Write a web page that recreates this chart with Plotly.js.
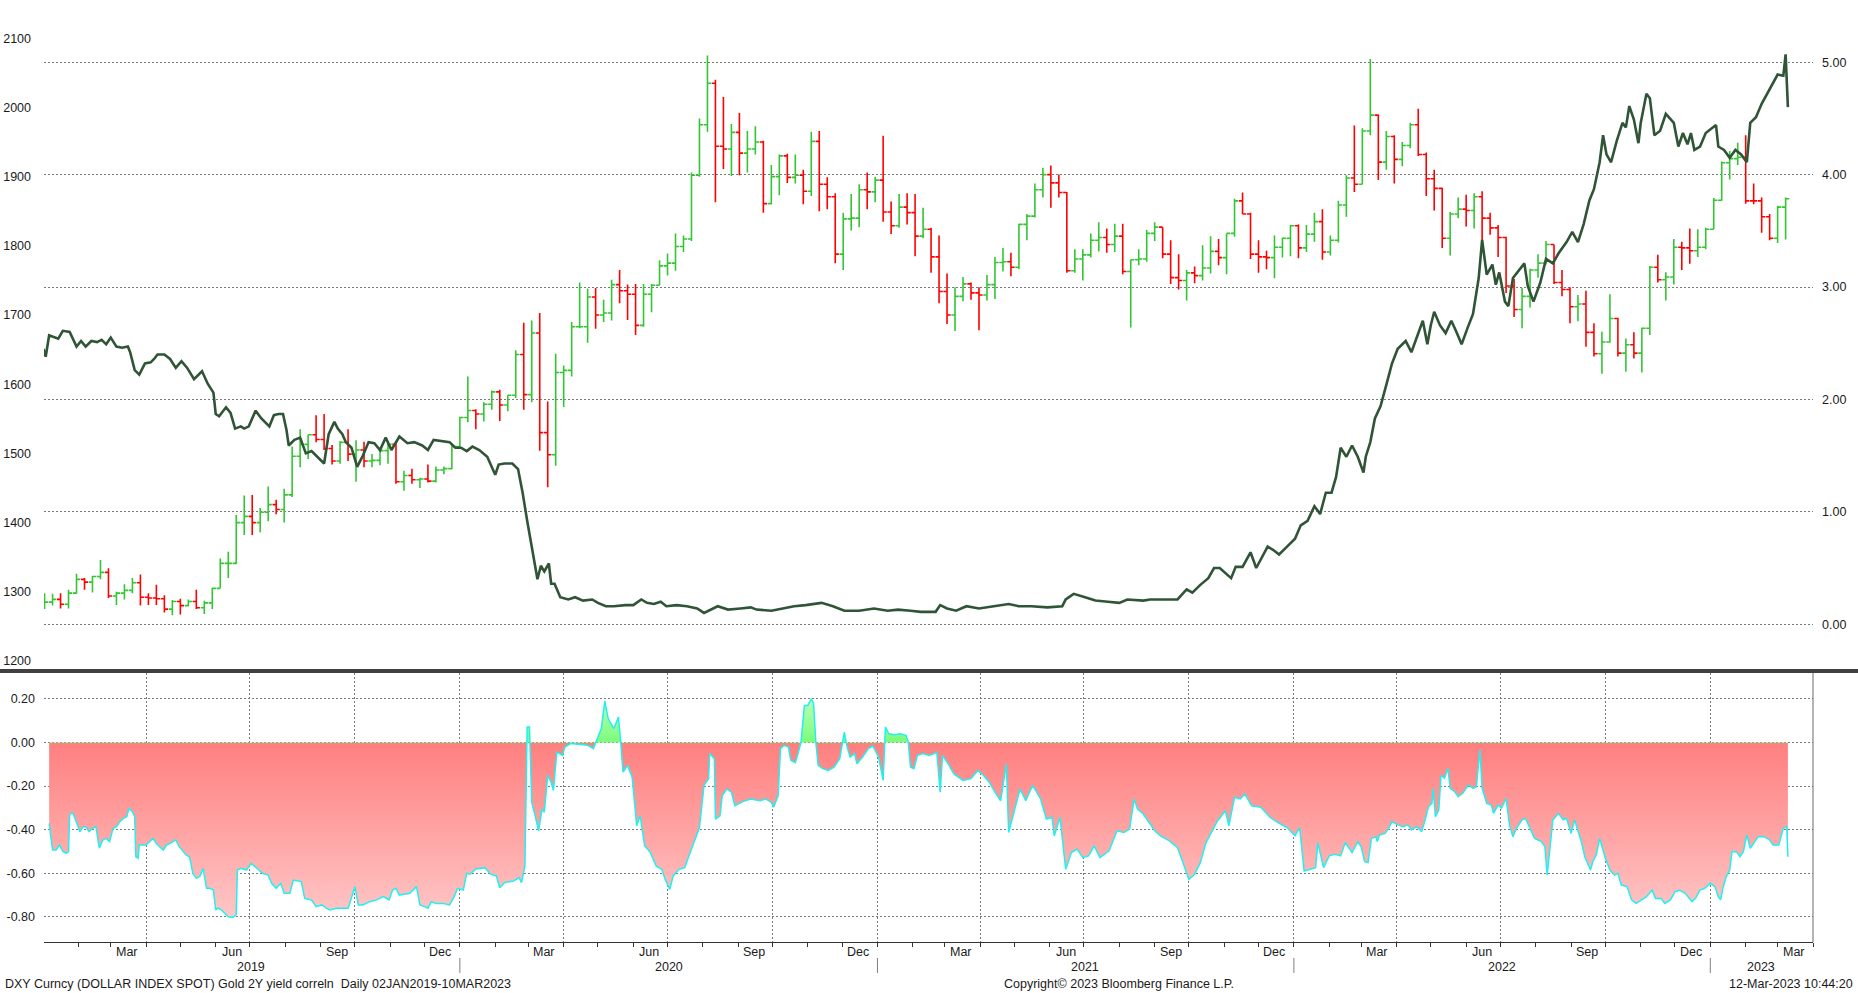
<!DOCTYPE html>
<html>
<head>
<meta charset="utf-8">
<script src="https://cdn.plot.ly/plotly-3.0.1.min.js"></script>
<style>html,body{margin:0;padding:0;background:#fff;}#chart{width:1858px;height:993px;}</style>
</head>
<body>
<div id="chart"></div>
<script>
// ---------------- DATA ----------------
// Gold spot, weekly OHLC bars (weeks starting Wed 2019-01-02)
const gold_first_week = '2019-01-02';
const gold_open = [1282,1285,1289,1282,1298,1318,1314,1322,1328,1294,1298,1302,1313,1292,1291,1290,1275,1286,1280,1286,1277,1284,1305,1341,1341,1400,1409,1400,1415,1426,1419,1440,1496,1513,1527,1520,1507,1489,1516,1499,1505,1489,1490,1504,1513,1459,1468,1462,1463,1460,1476,1478,
1510,1552,1562,1557,1571,1589,1570,1584,1643,1585,1674,1530,1498,1617,1620,1683,1683,1726,1700,1703,1744,1735,1730,1685,1730,1743,1771,1775,1799,1810,1902,1975,2035,1944,1940,1964,1934,1940,1950,1861,1900,1930,1899,1902,1879,1951,1889,1871,1788,1839,1840,1881,
1878,1895,1849,1829,1856,1848,1814,1824,1784,1734,1700,1727,1745,1732,1729,1744,1776,1777,1769,1831,1843,1881,1903,1891,1877,1764,1781,1787,1808,1812,1802,1814,1763,1780,1781,1818,1827,1788,1754,1750,1761,1757,1768,1792,1783,1818,1865,1846,1788,1784,1783,1798,1811,
1829,1797,1817,1835,1791,1808,1859,1898,1889,1966,1989,1921,1958,1925,1945,1975,1932,1897,1883,1811,1846,1853,1851,1871,1840,1826,1812,1742,1708,1727,1765,1775,1802,1747,1737,1712,1716,1675,1644,1661,1695,1645,1657,1645,1681,1769,1751,1755,1798,1797,1793,1798,
1824,1866,1920,1926,1928,1865,1865,1842,1811,1856];
const gold_high = [1298,1297,1298,1303,1326,1320,1323,1346,1334,1300,1311,1320,1325,1298,1310,1295,1288,1290,1289,1303,1287,1306,1348,1358,1411,1439,1440,1421,1452,1433,1449,1510,1535,1527,1555,1557,1512,1518,1535,1519,1517,1499,1506,1516,1515,1475,1478,1465,1484,1481,1481,1514,
1553,1611,1564,1574,1591,1592,1584,1649,1689,1692,1703,1575,1644,1627,1690,1747,1738,1739,1722,1751,1765,1744,1745,1745,1745,1779,1789,1818,1815,1906,1984,2075,2040,2015,1976,1992,1966,1973,1952,1917,1932,1933,1932,1910,1965,1966,1899,1876,1848,1875,1889,1906,
1900,1959,1864,1875,1876,1875,1855,1826,1815,1760,1740,1755,1747,1740,1758,1784,1797,1790,1832,1846,1890,1913,1916,1903,1878,1795,1795,1818,1834,1825,1832,1832,1780,1795,1823,1834,1827,1808,1788,1765,1770,1801,1814,1810,1818,1868,1877,1848,1808,1793,1815,1812,1830,
1831,1830,1848,1853,1815,1865,1902,1974,1970,2070,1990,1966,1960,1950,1978,1998,1935,1910,1884,1849,1870,1874,1876,1879,1848,1830,1813,1752,1739,1767,1788,1807,1802,1765,1740,1729,1735,1688,1676,1730,1696,1666,1675,1682,1771,1787,1762,1810,1806,1825,1824,1826,
1869,1922,1937,1949,1960,1890,1870,1846,1858,1870];
const gold_low = [1275,1280,1276,1276,1297,1303,1299,1318,1291,1281,1289,1298,1280,1281,1281,1270,1266,1267,1279,1275,1268,1275,1305,1320,1340,1382,1382,1386,1402,1412,1400,1437,1480,1492,1516,1505,1484,1485,1489,1459,1480,1480,1483,1485,1456,1446,1456,1450,1458,1458,1470,1477,
1508,1545,1535,1546,1563,1547,1561,1580,1563,1574,1504,1451,1482,1567,1611,1681,1660,1680,1690,1692,1717,1693,1671,1683,1704,1743,1757,1764,1791,1807,1900,1965,1863,1911,1901,1902,1906,1932,1848,1860,1873,1891,1890,1860,1872,1850,1853,1775,1765,1822,1827,1853,
1863,1835,1817,1826,1831,1785,1811,1761,1717,1687,1677,1720,1722,1678,1721,1723,1763,1756,1766,1808,1841,1870,1855,1870,1761,1761,1750,1783,1792,1790,1791,1759,1682,1772,1777,1807,1782,1745,1737,1721,1746,1750,1760,1772,1759,1813,1846,1781,1761,1766,1753,1783,1785,
1782,1791,1806,1780,1786,1805,1842,1878,1889,1960,1895,1910,1890,1915,1941,1930,1872,1851,1797,1786,1840,1828,1825,1805,1816,1784,1732,1697,1681,1711,1754,1773,1745,1727,1688,1691,1654,1640,1615,1660,1640,1618,1637,1617,1671,1747,1721,1744,1765,1774,1784,1795,
1824,1865,1896,1917,1861,1860,1819,1808,1804,1809];
const gold_close = [1285,1289,1282,1298,1318,1314,1322,1328,1294,1298,1302,1313,1292,1291,1290,1275,1286,1280,1286,1277,1284,1305,1341,1341,1400,1409,1400,1415,1426,1419,1440,1496,1513,1527,1520,1507,1489,1516,1499,1505,1489,1490,1504,1513,1459,1468,1462,1463,1460,1476,1478,1510,
1552,1562,1557,1571,1589,1570,1584,1643,1585,1674,1530,1498,1617,1620,1683,1683,1726,1700,1703,1744,1735,1730,1685,1730,1743,1771,1775,1799,1810,1902,1975,2035,1944,1940,1964,1934,1940,1950,1861,1900,1930,1899,1902,1879,1951,1889,1871,1788,1839,1840,1881,1878,
1895,1849,1829,1856,1848,1814,1824,1784,1734,1700,1727,1745,1732,1729,1744,1776,1777,1769,1831,1843,1881,1903,1891,1877,1764,1781,1787,1808,1812,1802,1814,1763,1780,1781,1818,1827,1788,1754,1750,1761,1757,1768,1792,1783,1818,1865,1846,1788,1784,1783,1798,1811,1829,
1797,1817,1835,1791,1808,1859,1898,1889,1966,1989,1921,1958,1925,1945,1975,1932,1897,1883,1811,1846,1853,1851,1871,1840,1826,1812,1742,1708,1727,1765,1775,1802,1747,1737,1712,1716,1675,1644,1661,1695,1645,1657,1645,1681,1769,1751,1755,1798,1797,1793,1798,1824,
1866,1920,1926,1928,1865,1865,1842,1811,1856,1868];

// US 2Y yield (right axis): day offsets from 2019-01-01 and values
const yield_day = [0,2,5,8,13,17,23,29,33,37,42,47,51,55,59,64,69,74,76,80,84,89,94,97,100,106,111,116,121,126,132,139,144,149,151,154,160,164,168,173,176,180,186,191,198,202,206,210,213,215,220,225,230,235,240,246,250,255,258,262,265,270,275,280,285,290,295,300,305,312,319,325,332,337,342,349,356,361,366,371,376,382,389,396,399,404,411,416,420,424,428,431,433,436,439,443,445,448,450,453,460,466,473,481,486,493,500,510,517,
524,529,535,541,546,555,564,573,579,591,600,611,620,625,638,648,658,668,682,692,702,715,728,740,749,760,769,782,786,792,800,809,820,833,846,855,866,880,893,896,903,913,922,933,943,950,964,970,984,994,1002,1007,1014,1021,1026,
1031,1041,1045,1051,1058,1063,1068,1073,1078,1083,1090,1097,1102,1108,1114,1119,1124,1129,1133,1137,1142,1147,1152,1157,1159,1163,1167,1172,1177,1182,1187,1194,1199,1204,1209,1213,1216,1219,1224,1229,1234,1238,1243,1248,1253,1258,1261,1265,1270,1273,1276,1281,1284,1288,1293,1298,1301,1306,1312,1317,1323,1328,1335,1340,1345,1350,1355,1359,1364,1367,1370,1374,1379,1384,1387,1390,1394,1398,1400,1405,1408,1412,1417,1422,1429,1433,1437,1441,1444,1447,1452,1457,1462,1466,1468,1473,1478,1483,1488,1493,1496,1501,1506,1511,1515,1520,1525,1527,1529];
const yield_val = [2.45,2.38,2.57,2.56,2.54,2.61,2.60,2.47,2.52,2.47,2.52,2.51,2.53,2.49,2.55,2.47,2.46,2.47,2.42,2.26,2.22,2.32,2.33,2.36,2.40,2.40,2.36,2.28,2.34,2.28,2.18,2.25,2.14,2.06,1.87,1.85,1.93,1.88,1.74,1.76,1.74,1.76,1.90,1.83,1.76,1.86,1.87,1.87,1.73,1.59,1.64,1.66,1.52,1.54,1.49,1.43,1.69,1.80,1.74,1.69,1.62,1.57,1.40,1.50,1.62,1.61,1.55,1.66,1.55,1.67,1.61,1.62,1.59,1.55,1.64,1.63,1.62,1.57,1.57,1.54,1.58,1.55,1.49,1.33,1.42,1.43,1.43,1.38,1.17,0.92,0.69,0.54,0.40,0.52,0.47,0.54,0.36,0.36,0.31,0.24,0.22,0.24,0.21,0.22,0.19,0.16,0.16,0.17,0.17,
0.22,0.19,0.18,0.20,0.16,0.17,0.16,0.14,0.10,0.16,0.13,0.14,0.15,0.13,0.12,0.14,0.16,0.17,0.19,0.16,0.12,0.12,0.14,0.12,0.13,0.12,0.11,0.11,0.17,0.14,0.12,0.16,0.14,0.16,0.18,0.16,0.16,0.15,0.16,0.22,0.27,0.24,0.21,0.20,0.19,0.22,0.21,0.22,0.22,0.22,0.31,0.28,0.35,0.41,0.50,
0.50,0.41,0.51,0.51,0.64,0.50,0.59,0.69,0.66,0.62,0.69,0.76,0.88,0.92,1.05,0.98,1.17,1.17,1.31,1.57,1.49,1.59,1.49,1.35,1.49,1.62,1.83,1.94,2.13,2.32,2.45,2.52,2.42,2.56,2.70,2.49,2.66,2.78,2.66,2.59,2.70,2.61,2.49,2.63,2.76,3.08,3.42,3.11,3.20,3.02,3.13,2.87,2.83,3.08,3.14,3.21,3.01,2.87,3.04,3.25,3.21,3.30,3.40,3.49,3.40,3.56,3.77,3.87,4.11,4.35,4.18,4.11,4.30,4.46,4.42,4.61,4.49,4.28,4.46,4.72,4.68,4.35,4.39,4.54,4.46,4.25,4.37,4.27,4.37,4.22,4.25,4.37,4.41,4.44,4.25,4.22,4.15,4.22,4.18,4.11,4.46,4.51,4.63,4.72,4.80,4.89,4.88,5.07,4.60];

// Correlation (lower panel): day offsets from 2019-01-01 and values
const corr_day = [5,8,11,14,17,20,22,23,26,29,32,35,37,40,43,46,49,52,55,58,61,64,67,70,73,75,78,80,81,83,84,90,96,99,102,105,108,111,116,119,125,128,131,134,137,140,141,143,146,149,151,153,156,159,162,166,169,170,173,178,182,187,192,197,200,204,208,211,216,219,226,229,235,239,244,248,251,257,267,268,273,276,280,286,292,298,303,306,309,312,321,327,330,334,337,340,344,350,356,360,363,368,371,
374,379,387,392,397,400,404,412,417,419,422,424,426,428,431,434,437,439,442,445,447,450,455,457,462,470,477,482,485,489,492,495,500,504,506,508,512,516,520,523,527,532,537,542,545,549,552,557,562,566,570,575,579,583,584,588,589,593,595,599,603,606,613,620,628,633,638,640,644,646,649,653,655,659,661,664,667,670,673,675,677,679,683,688,693,698,702,704,707,711,713,718,723,727,732,736,738,741,746,751,756,758,760,763,766,771,776,781,783,786,788,793,798,806,813,819,824,829,834,839,844,846,851,856,861,867,874,879,884,886,891,896,901,906,911,916,921,926,934,941,947,952,956,959,964,969,974,979,987,994,999,1004,1009,1014,1019,1024,1029,1036,1039,1044,1049,1053,1059,1067,1075,1082,1090,1097,1101,1105,1110,1115,1117,1122,1127,1132,1137,1141,1147,
1152,1155,1158,1161,1164,1168,1169,1171,1176,1179,1182,1187,1192,1196,1199,1204,1208,1211,1214,1217,1218,1220,1223,1225,1228,1231,1233,1237,1240,1244,1249,1253,1256,1259,1261,1265,1269,1271,1275,1278,1282,1285,1288,1291,1296,1299,1303,1307,1313,1316,1318,1320,1323,1328,1332,1335,1339,1342,1345,1348,1351,1356,1358,1361,1364,1369,1373,1377,1380,1383,1388,1392,1396,1401,1405,1410,1413,1418,1421,1426,1430,1434,1439,1445,1448,1452,1456,1461,1465,1468,1470,1472,1475,1478,1480,1484,1487,1490,1493,1496,1500,1503,1508,1513,1516,1521,1525,1528,1529];
const corr_val = [-0.371,-0.493,-0.493,-0.47,-0.50,-0.508,-0.50,-0.328,-0.325,-0.371,-0.409,-0.386,-0.386,-0.409,-0.394,-0.386,-0.485,-0.447,-0.44,-0.455,-0.394,-0.386,-0.363,-0.348,-0.34,-0.302,-0.317,-0.34,-0.524,-0.531,-0.47,-0.47,-0.44,-0.463,-0.478,-0.493,-0.47,-0.463,-0.447,-0.478,-0.516,-0.524,-0.60,-0.623,-0.615,-0.577,-0.608,-0.669,-0.669,-0.677,-0.768,-0.76,-0.768,-0.784,-0.799,-0.802,-0.79,-0.585,-0.577,-0.585,-0.554,-0.577,-0.60,-0.608,-0.646,-0.669,-0.646,-0.692,-0.692,-0.631,-0.638,-0.715,-0.722,-0.753,-0.745,-0.76,-0.768,-0.76,-0.76,-0.745,-0.661,-0.745,-0.745,-0.73,-0.722,-0.707,-0.722,-0.677,-0.669,-0.70,-0.692,-0.661,-0.745,-0.753,-0.76,-0.73,-0.738,-0.738,-0.745,-0.707,-0.669,-0.677,-0.60,
-0.604,-0.58,-0.574,-0.604,-0.612,-0.666,-0.643,-0.635,-0.62,-0.643,-0.566,0.071,0.071,-0.274,-0.336,-0.405,-0.305,-0.32,-0.151,-0.182,-0.22,-0.044,-0.059,-0.021,-0.005,-0.01,-0.013,-0.028,0.01,0.064,0.19,0.11,0.064,0.117,0.002,-0.136,-0.105,-0.159,-0.382,-0.336,-0.474,-0.505,-0.566,-0.582,-0.628,-0.674,-0.612,-0.582,-0.574,-0.52,-0.459,-0.39,-0.197,-0.166,-0.051,-0.074,-0.351,-0.336,-0.243,-0.213,-0.228,-0.29,-0.271,-0.259,-0.267,-0.259,-0.274,-0.297,-0.243,-0.028,-0.013,-0.021,-0.082,-0.093,-0.059,0.002,0.17,0.17,0.20,0.18,0.002,-0.105,-0.12,-0.128,-0.113,-0.074,0.048,-0.013,-0.067,-0.051,-0.098,-0.067,-0.028,-0.016,-0.067,-0.174,0.071,0.04,0.036,0.04,0.033,0.002,-0.113,-0.12,-0.059,-0.051,-0.059,-0.051,-0.044,-0.228,-0.059,-0.098,-0.144,-0.174,-0.166,-0.128,-0.151,-0.182,-0.228,-0.267,-0.098,-0.413,-0.313,-0.213,-0.267,-0.197,-0.259,-0.351,-0.343,-0.428,-0.343,-0.582,-0.505,-0.489,-0.528,-0.52,-0.474,-0.528,-0.497,-0.405,-0.413,-0.397,-0.259,-0.305,-0.328,-0.367,-0.405,-0.428,-0.451,-0.482,-0.559,-0.628,-0.604,-0.551,-0.459,-0.413,-0.36,-0.313,-0.382,-0.251,-0.259,-0.236,-0.29,-0.297,-0.343,-0.367,-0.39,-0.428,-0.39,-0.589,-0.582,-0.574,-0.459,-0.574,-0.52,-0.513,-0.52,-0.459,-0.505,
-0.455,-0.478,-0.547,-0.551,-0.44,-0.432,-0.455,-0.424,-0.417,-0.394,-0.363,-0.378,-0.386,-0.378,-0.401,-0.386,-0.409,-0.355,-0.294,-0.279,-0.21,-0.34,-0.31,-0.15,-0.164,-0.118,-0.21,-0.226,-0.249,-0.233,-0.195,-0.21,-0.203,-0.034,-0.21,-0.279,-0.287,-0.325,-0.287,-0.302,-0.256,-0.378,-0.432,-0.394,-0.355,-0.348,-0.394,-0.44,-0.455,-0.478,-0.608,-0.493,-0.355,-0.325,-0.355,-0.348,-0.417,-0.355,-0.401,-0.455,-0.524,-0.585,-0.547,-0.516,-0.44,-0.531,-0.585,-0.608,-0.60,-0.654,-0.661,-0.722,-0.738,-0.722,-0.707,-0.677,-0.715,-0.715,-0.738,-0.722,-0.685,-0.677,-0.692,-0.73,-0.715,-0.677,-0.669,-0.646,-0.661,-0.707,-0.722,-0.669,-0.615,-0.585,-0.501,-0.501,-0.524,-0.501,-0.424,-0.485,-0.455,-0.432,-0.432,-0.447,-0.47,-0.47,-0.394,-0.386,-0.524];

// Axis tick labels
const gold_ticks = [1200,1300,1400,1500,1600,1700,1800,1900,2000,2100];
const yield_ticks = [0,1,2,3,4,5];
const yield_ticktext = ['0.00','1.00','2.00','3.00','4.00','5.00'];
const corr_ticks = [0.2,0,-0.2,-0.4,-0.6,-0.8];
const corr_ticktext = ['0.20','0.00','-0.20','-0.40','-0.60','-0.80'];
const month_label_months = ['2019-03','2019-06','2019-09','2019-12','2020-03','2020-06','2020-09','2020-12','2021-03','2021-06','2021-09','2021-12','2022-03','2022-06','2022-09','2022-12','2023-03'];
const month_label_text = ['Mar','Jun','Sep','Dec','Mar','Jun','Sep','Dec','Mar','Jun','Sep','Dec','Mar','Jun','Sep','Dec','Mar'];
const year_labels = ['2019','2020','2021','2022','2023'];
const year_label_pos = ['2019-07-02','2020-07-02','2021-07-02','2022-07-02','2023-02-14'];
const year_separators = ['2020-01-01','2021-01-01','2022-01-01','2023-01-01'];
const footer_left = 'DXY Curncy (DOLLAR INDEX SPOT) Gold 2Y yield correln  Daily 02JAN2019-10MAR2023';
const footer_mid = 'Copyright\u00A9 2023 Bloomberg Finance L.P.';
const footer_right = '12-Mar-2023 10:44:20';

// ---------------- HELPERS ----------------
const DAY = 86400000;
const BASE = Date.UTC(2019,0,1);
function dayToDate(n){ return new Date(BASE + n*DAY).toISOString().slice(0,10); }
const gStart = Date.parse(gold_first_week + 'T00:00:00Z');
const gold_x = gold_close.map((_, i) => new Date(gStart + i*7*DAY).toISOString().slice(0,10));
const yield_x = yield_day.map(dayToDate);
const corr_x = corr_day.map(dayToDate);

// ---------------- LAYOUT ----------------
const W = 1858, H = 993;
const px2py = y => 1 - y / H;
const XD = [44 / W, 1813 / W];
const UPPER = [px2py(669), px2py(5)];
const LOWER = [px2py(942), px2py(673)];
const XR = ['2019-01-01 12:00', '2023-04-01'];
const FONT = {family: '"Liberation Sans", Arial, sans-serif', size: 12.5, color: '#1a1a1a'};
const GRID = '#7a7a7a';

const traces = [
  {
    type: 'ohlc', x: gold_x, open: gold_open, high: gold_high, low: gold_low, close: gold_close,
    xaxis: 'x2', yaxis: 'y', tickwidth: 0.46,
    increasing: {line: {color: '#33c633', width: 1.6}},
    decreasing: {line: {color: '#ff0000', width: 1.6}},
    hoverinfo: 'skip', showlegend: false
  },
  {
    type: 'scatter', mode: 'lines', x: yield_x, y: yield_val, xaxis: 'x2', yaxis: 'y2',
    line: {color: '#2f5536', width: 2.6}, hoverinfo: 'skip', showlegend: false
  },
  {
    type: 'scatter', mode: 'lines', x: corr_x, y: corr_val, xaxis: 'x', yaxis: 'y3',
    fill: 'tozeroy', fillcolor: 'rgba(255,140,140,0.9)',
    fillgradient: {type: 'vertical', start: -0.8, stop: 0.2,
      colorscale: [[0, '#ffc6c6'], [0.8, '#ff7f7f'], [0.8, '#7cfc7c'], [1, '#b8ffb8']]},
    line: {color: '#22f0f0', width: 1.5}, hoverinfo: 'skip', showlegend: false
  }
];

const annotations = [];
month_label_months.forEach((m, i) => {
  annotations.push({x: m + '-15', xref: 'x', y: px2py(952), yref: 'paper', text: month_label_text[i],
    showarrow: false, xanchor: 'center', yanchor: 'middle', font: FONT});
});
year_labels.forEach((t, i) => {
  annotations.push({x: year_label_pos[i], xref: 'x', y: px2py(967), yref: 'paper', text: t,
    showarrow: false, xanchor: 'center', yanchor: 'middle', font: FONT});
});
annotations.push({x: 3 / W, xref: 'paper', y: px2py(984), yref: 'paper', text: footer_left, showarrow: false, xanchor: 'left', yanchor: 'middle', font: FONT});
annotations.push({x: 1119 / W, xref: 'paper', y: px2py(984), yref: 'paper', text: footer_mid, showarrow: false, xanchor: 'center', yanchor: 'middle', font: FONT});
annotations.push({x: 1855 / W, xref: 'paper', y: px2py(984), yref: 'paper', text: footer_right, showarrow: false, xanchor: 'right', yanchor: 'middle', font: FONT});

const shapes = [
  {type: 'rect', xref: 'paper', yref: 'paper', x0: 0, x1: 1, y0: px2py(673), y1: px2py(669), fillcolor: '#404040', line: {width: 0}},
  {type: 'line', xref: 'paper', yref: 'paper', x0: XD[1], x1: XD[1], y0: LOWER[0], y1: LOWER[1], line: {color: '#6a6a6a', width: 1}}
];
year_separators.forEach(d => {
  shapes.push({type: 'line', xref: 'x', yref: 'paper', x0: d, x1: d, y0: px2py(973), y1: px2py(958), line: {color: '#808080', width: 1}});
});

const layout = {
  width: W, height: H, margin: {l: 0, r: 0, t: 0, b: 0},
  paper_bgcolor: '#ffffff', plot_bgcolor: '#ffffff', showlegend: false, hovermode: false,
  font: FONT,
  xaxis: {
    domain: XD, anchor: 'y3', type: 'date', range: XR, fixedrange: true,
    tick0: '2019-01-01', dtick: 'M3', showticklabels: false,
    ticks: 'outside', ticklen: 4, tickcolor: '#333', tickwidth: 1,
    showgrid: true, gridcolor: GRID, griddash: '2px,2px', gridwidth: 1,
    minor: {dtick: 'M1', tick0: '2019-01-01', ticks: 'outside', ticklen: 4, tickcolor: '#333', tickwidth: 1, showgrid: false},
    showline: true, linecolor: '#333', linewidth: 1, zeroline: false,
    rangeslider: {visible: false}
  },
  xaxis2: {
    domain: XD, anchor: 'y', type: 'date', range: XR, visible: false, fixedrange: true,
    rangeslider: {visible: false}
  },
  yaxis: {
    domain: UPPER, anchor: 'x2', range: [1188.4, 2148.1], fixedrange: true,
    tickmode: 'array', tickvals: gold_ticks, ticktext: gold_ticks.map(String),
    showgrid: false, zeroline: false, showline: false, ticks: '', ticklabelstandoff: 12
  },
  yaxis2: {
    overlaying: 'y', side: 'right', anchor: 'x2', range: [-0.3986, 5.509], fixedrange: true,
    tickmode: 'array', tickvals: yield_ticks, ticktext: yield_ticktext,
    showgrid: true, gridcolor: GRID, griddash: '2px,2px', gridwidth: 1,
    zeroline: false, showline: false, ticks: '', ticklabelstandoff: 8
  },
  yaxis3: {
    domain: LOWER, anchor: 'x', range: [-0.9151, 0.3188], fixedrange: true,
    tickmode: 'array', tickvals: corr_ticks, ticktext: corr_ticktext,
    showgrid: true, gridcolor: GRID, griddash: '2px,2px', gridwidth: 1,
    zeroline: false, showline: false, ticks: '', ticklabelstandoff: 8
  },
  annotations: annotations,
  shapes: shapes
};

Plotly.newPlot('chart', traces, layout, {displayModeBar: false, staticPlot: true});
</script>
</body>
</html>
